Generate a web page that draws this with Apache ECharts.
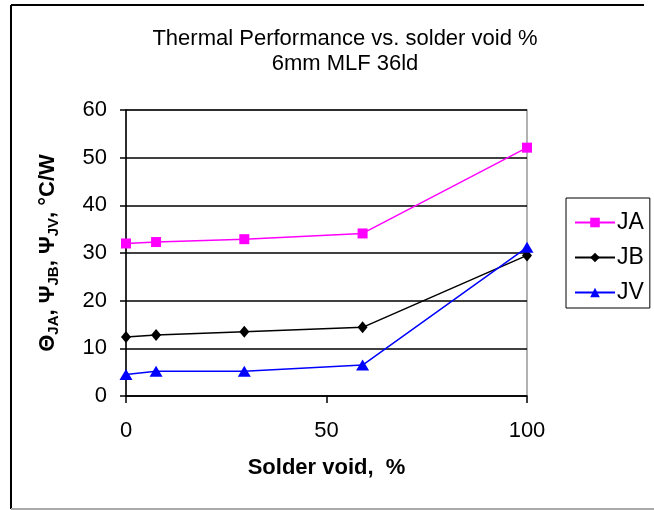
<!DOCTYPE html>
<html>
<head>
<meta charset="utf-8">
<script src="https://cdn.jsdelivr.net/npm/echarts@6/dist/echarts.min.js"></script>
<style>html,body{margin:0;padding:0;background:#fff}#c{width:654px;height:510px}</style>
</head>
<body>
<div id="c"></div>
<script>
const voidPct = [0, 7.5, 29.5, 59, 100];
const seriesNames = ['JA', 'JB', 'JV'];
const valJA = [32.0, 32.3, 32.9, 34.1, 52.1];
const valJB = [12.4, 12.8, 13.5, 14.4, 29.5];
const valJV = [4.5, 5.2, 5.2, 6.5, 31.2];
const yTicks = [0, 10, 20, 30, 40, 50, 60];
const xTicks = [0, 50, 100];
const titleLines = ['Thermal Performance vs. solder void %', '6mm MLF 36ld'];
const xTitle = 'Solder void,  %';

const font = '"Liberation Sans", Arial, sans-serif';
const pairs = v => voidPct.map((x, i) => [x, v[i]]);
const chart = echarts.init(document.getElementById('c'), null, {renderer: 'canvas'});
chart.setOption({
  animation: false,
  backgroundColor: '#fff',
  textStyle: {fontFamily: font},
  title: {
    text: titleLines.join('\n'),
    left: 340, top: 21, textAlign: 'center',
    textStyle: {fontFamily: font, fontSize: 22, fontWeight: 'normal', color: '#000', lineHeight: 25}
  },
  grid: {left: 126, right: 127, top: 110, bottom: 114, show: true, borderColor: '#999', borderWidth: 1.5},
  legend: {
    orient: 'vertical', left: 566, top: 198,
    borderColor: '#000', borderWidth: 1, borderRadius: 0,
    padding: [13, 6, 4, 8],
    itemWidth: 40, itemHeight: 12, itemGap: 12,
    data: seriesNames,
    textStyle: {fontFamily: font, fontSize: 23, color: '#000', padding: [0, 0, 0, -3]}
  },
  xAxis: {
    type: 'value', min: 0, max: 100, interval: 50,
    name: xTitle, nameLocation: 'middle', nameGap: 61,
    nameTextStyle: {fontFamily: font, fontSize: 22, fontWeight: 'bold', color: '#000'},
    axisLine: {show: true, onZero: false, lineStyle: {color: '#000', width: 1.5}},
    axisTick: {show: true, inside: false, length: 7, lineStyle: {color: '#000', width: 1.5}},
    axisLabel: {fontFamily: font, fontSize: 22, color: '#000', margin: 24,
      formatter: v => xTicks.includes(v) ? String(v) : ''},
    splitLine: {show: false}
  },
  yAxis: {
    type: 'value', min: 0, max: 60, interval: 10,
    name: '{g|Θ}{s|JA}{g|, Ψ}{s|JB}{g|, Ψ}{s|JV}{g|, °C/W}',
    nameLocation: 'middle', nameGap: 65, nameRotate: 90,
    nameTextStyle: {
      fontFamily: font, color: '#000',
      rich: {
        g: {fontFamily: font, fontSize: 22, fontWeight: 'bold', color: '#000', lineHeight: 26},
        s: {fontFamily: font, fontSize: 15, fontWeight: 'bold', color: '#000', lineHeight: 26, verticalAlign: 'bottom', padding: [6, 0, 0, 0]}
      }
    },
    axisLine: {show: true, lineStyle: {color: '#000', width: 1.5}},
    axisTick: {show: true, inside: false, length: 6, lineStyle: {color: '#000', width: 1.5}},
    axisLabel: {fontFamily: font, fontSize: 22, color: '#000', margin: 19,
      formatter: v => yTicks.includes(v) ? String(v) : ''},
    splitLine: {show: true, lineStyle: {color: '#000', width: 1.5}}
  },
  graphic: [
    {type: 'line', shape: {x1: 11, y1: 5, x2: 644, y2: 5}, style: {stroke: '#000', lineWidth: 2}, silent: true},
    {type: 'line', shape: {x1: 11, y1: 5, x2: 11, y2: 509}, style: {stroke: '#000', lineWidth: 2}, silent: true},
    {type: 'line', shape: {x1: 11, y1: 509, x2: 654, y2: 509}, style: {stroke: '#aaa', lineWidth: 2}, silent: true}
  ],
  series: [
    {name: 'JA', type: 'line', data: pairs(valJA), symbol: 'rect', symbolSize: 10,
      itemStyle: {color: '#ff00ff'}, lineStyle: {color: '#ff00ff', width: 1.5}, z: 3},
    {name: 'JB', type: 'line', data: pairs(valJB), symbol: 'diamond', symbolSize: [10, 12],
      itemStyle: {color: '#000'}, lineStyle: {color: '#000', width: 1.5}, z: 4},
    {name: 'JV', type: 'line', data: pairs(valJV), symbol: 'triangle', symbolSize: [13, 11],
      itemStyle: {color: '#0000ff'}, lineStyle: {color: '#0000ff', width: 1.5}, z: 5}
  ]
});
</script>
</body>
</html>
